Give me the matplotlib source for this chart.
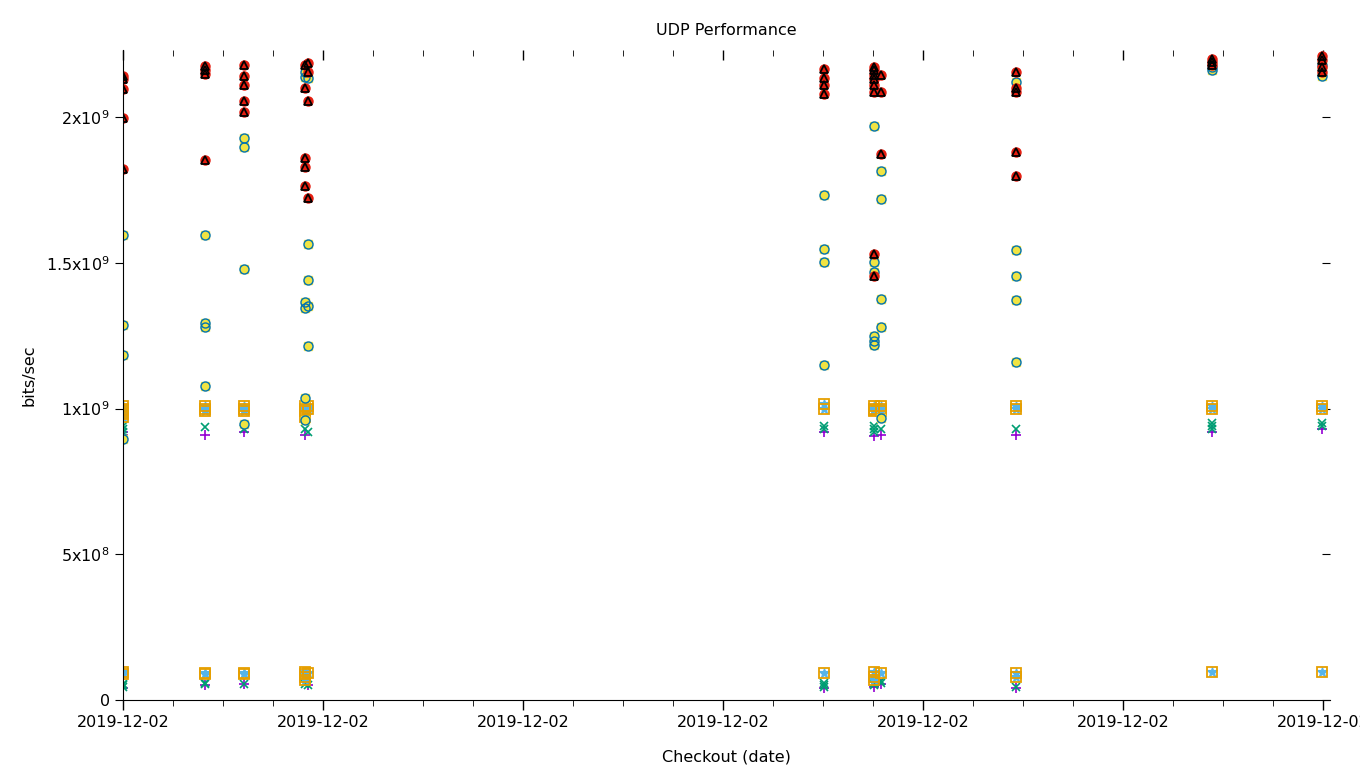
import matplotlib
matplotlib.use("Agg")
import matplotlib.pyplot as plt
from matplotlib.ticker import MultipleLocator, FixedLocator, FuncFormatter

# x = hours after 2019-12-02 00:00, y = Gbit/s (scaled by 1e9 when drawn)
# triangles series (red filled circle + black open triangle)
tri_x = [0, 0, 0, 0, 0,
         0.82, 0.82, 0.82, 0.82,
         1.21, 1.21, 1.21, 1.21, 1.21,
         1.82, 1.82, 1.82, 1.82, 1.82, 1.85, 1.85, 1.85, 1.85,
         7.01, 7.01, 7.01, 7.01,
         7.51, 7.51, 7.51, 7.51, 7.51, 7.51, 7.51, 7.51, 7.58, 7.58, 7.58,
         8.93, 8.93, 8.93, 8.93, 8.93,
         10.89, 10.89, 10.89,
         11.99, 11.99, 11.99, 11.99]
tri_y = [2.141, 2.129, 2.095, 1.995, 1.821,
         2.175, 2.162, 2.148, 1.853,
         2.177, 2.141, 2.110, 2.056, 2.019,
         2.178, 2.101, 1.859, 1.830, 1.763, 2.186, 2.153, 2.055, 1.722,
         2.164, 2.133, 2.110, 2.078,
         2.170, 2.160, 2.145, 2.130, 2.110, 2.085, 1.531, 1.456, 2.145, 2.087, 1.873,
         2.154, 2.099, 2.085, 1.880, 1.798,
         2.200, 2.190, 2.180,
         2.210, 2.195, 2.170, 2.155]

# circle series (yellow filled square + blue open circle)
cir_x = [0, 0, 0, 0,
         0.82, 0.82, 0.82, 0.82,
         1.21, 1.21, 1.21, 1.21,
         1.82, 1.82, 1.82, 1.82, 1.82, 1.82, 1.85, 1.85, 1.85, 1.85, 1.85,
         7.01, 7.01, 7.01, 7.01,
         7.51, 7.51, 7.51, 7.51, 7.51, 7.51,
         7.58, 7.58, 7.58, 7.58, 7.58,
         8.93, 8.93, 8.93, 8.93, 8.93,
         10.89, 10.89,
         11.99, 11.99]
cir_y = [1.595, 1.286, 1.183, 0.896,
         1.595, 1.293, 1.280, 1.077,
         1.927, 1.898, 1.479, 0.948,
         2.153, 2.137, 1.365, 1.345, 1.036, 0.960, 2.134, 1.564, 1.441, 1.352, 1.214,
         1.731, 1.547, 1.503, 1.149,
         1.969, 1.504, 1.470, 1.249, 1.230, 1.218,
         1.816, 1.718, 1.375, 1.279, 0.968,
         2.120, 1.544, 1.454, 1.372, 1.160,
         2.170, 2.160,
         2.180, 2.140]

# ~1 Gbit series (light blue asterisk + orange open square)
sq_x = [0, 0, 0, 0, 0, 0, 0, 0, 0,
        0.82, 0.82, 0.82, 0.82, 0.82,
        1.21, 1.21, 1.21, 1.21, 1.21,
        1.82, 1.82, 1.82, 1.82, 1.82, 1.82, 1.82, 1.82, 1.85, 1.85, 1.85,
        7.01, 7.01, 7.01,
        7.51, 7.51, 7.51, 7.51, 7.51, 7.51, 7.51, 7.58, 7.58, 7.58, 7.58,
        8.93, 8.93, 8.93, 8.93,
        10.89, 10.89, 10.89,
        11.99, 11.99, 11.99]
sq_y = [1.010, 1.000, 0.995, 0.990, 0.985, 0.980, 0.970, 0.095, 0.090,
        1.010, 1.000, 0.990, 0.093, 0.090,
        1.010, 1.000, 0.990, 0.092, 0.088,
        1.010, 1.000, 0.990, 0.970, 0.095, 0.090, 0.080, 0.070, 1.010, 1.000, 0.093,
        1.015, 1.000, 0.093,
        1.010, 1.000, 0.995, 0.990, 0.095, 0.080, 0.070, 1.010, 1.000, 0.990, 0.093,
        1.010, 1.000, 0.093, 0.080,
        1.010, 1.000, 0.097,
        1.010, 1.000, 0.097]

# green x series
gx_x = [0, 0, 0, 0, 0, 0,
        0.82, 0.82, 0.82,
        1.21, 1.21,
        1.82, 1.82, 1.85, 1.85,
        7.01, 7.01, 7.01, 7.01, 7.01,
        7.51, 7.51, 7.51, 7.51, 7.51, 7.58, 7.58, 7.58,
        8.93, 8.93,
        10.89, 10.89, 10.89,
        11.99, 11.99]
gx_y = [0.940, 0.930, 0.920, 0.055, 0.050, 0.045,
        0.935, 0.060, 0.055,
        0.930, 0.055,
        0.930, 0.055, 0.920, 0.050,
        0.940, 0.930, 0.060, 0.050, 0.045,
        0.940, 0.930, 0.920, 0.060, 0.050, 0.930, 0.065, 0.060,
        0.930, 0.045,
        0.950, 0.940, 0.930,
        0.950, 0.940]

# purple + series
pp_x = [0, 0, 0, 0.82, 0.82, 1.21, 1.21, 1.82, 1.85,
        7.01, 7.01, 7.51, 7.51, 7.58, 7.58, 8.93, 8.93, 10.89, 11.99]
pp_y = [0.920, 0.910, 0.040, 0.910, 0.050, 0.920, 0.055, 0.910, 0.050,
        0.920, 0.040, 0.905, 0.045, 0.910, 0.055, 0.910, 0.040, 0.920, 0.930]

fig = plt.figure(figsize=(13.6, 7.68), dpi=100)
ax = fig.add_axes([123 / 1360, 68 / 768, 1207 / 1360, 650 / 768])

g = 1e9
ax.plot(pp_x, [v * g for v in pp_y], '+', color='#9400D3', ms=7, mew=1.2, ls='none')
ax.plot(gx_x, [v * g for v in gx_y], 'x', color='#009E73', ms=6, mew=1.2, ls='none')
ax.plot(sq_x, [v * g for v in sq_y], '*', color='#56B4E9', ms=7, mew=0.8, ls='none')
ax.plot(sq_x, [v * g for v in sq_y], 's', mfc='none', mec='#E69F00', ms=6.5, mew=1.3, ls='none')
ax.plot(cir_x, [v * g for v in cir_y], 's', color='#F0E442', ms=5.5, ls='none')
ax.plot(cir_x, [v * g for v in cir_y], 'o', mfc='none', mec='#0072B2', ms=6.5, mew=1.0, ls='none')
ax.plot(tri_x, [v * g for v in tri_y], 'o', color='#E51E10', ms=6.5, ls='none')
ax.plot(tri_x, [v * g for v in tri_y], '^', mfc='none', mec='black', ms=5.5, mew=1.3, ls='none')

ax.set_xlim(0, 12.07)
ax.set_ylim(0, 2.23e9)

ax.xaxis.set_major_locator(MultipleLocator(2))
ax.xaxis.set_minor_locator(MultipleLocator(0.5))
ax.xaxis.set_major_formatter(FuncFormatter(lambda v, p: '2019-12-02'))

yticks = [0, 5e8, 1e9, 1.5e9, 2e9]
ylabels = ['0', r'5x10$^{8}$', r'1x10$^{9}$', r'1.5x10$^{9}$', r'2x10$^{9}$']
ax.yaxis.set_major_locator(FixedLocator(yticks))
ax.set_yticklabels(ylabels)

ax.spines['top'].set_visible(False)
ax.spines['right'].set_visible(False)
ax.tick_params(axis='x', which='major', direction='out', length=7, width=1, top=True, labelsize=11.5)
ax.tick_params(axis='x', which='minor', direction='out', length=4, top=True)
ax.tick_params(axis='y', direction='out', length=6, right=True, labelsize=11.5)
for t in ax.xaxis.get_major_ticks() + ax.xaxis.get_minor_ticks():
    t.tick2line.set_marker(3)
for t in ax.yaxis.get_major_ticks():
    t.tick2line.set_marker(0)

ax.set_title('UDP Performance', fontsize=11.5, pad=11)
ax.set_xlabel('Checkout (date)', fontsize=11.5, labelpad=14)
ax.set_ylabel('bits/sec', fontsize=11.5, labelpad=7)

fig.savefig('out.png', dpi=100)
